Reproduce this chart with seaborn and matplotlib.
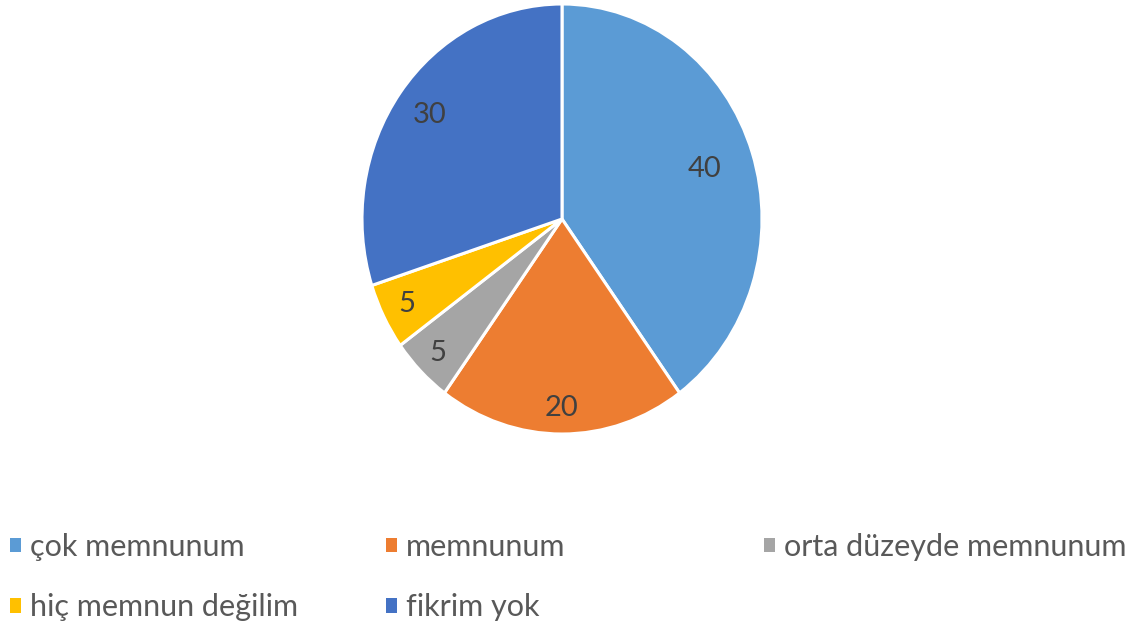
import matplotlib
matplotlib.use("Agg")
import numpy as np
import matplotlib.pyplot as plt
from matplotlib.patches import Patch
import seaborn as sns

# -------------------------------
# Data
# -------------------------------
categories = ["çok memnunum", "memnunum", "orta düzeyde memnunum", "hiç memnun değilim", "fikrim yok"]
values = [40, 20, 5, 5, 30]
colors = ["#5B9BD5", "#ED7D31", "#A5A5A5", "#FFC000", "#4472C4"]
# how far from the centre each value label sits (fraction of radius)
label_dist = [0.75, 0.88, 0.88, 0.87, 0.82]

sns.set_theme(style="white")
plt.rcParams["font.family"] = ["Lato", "DejaVu Sans"]

fig = plt.figure(figsize=(11.38, 6.37), dpi=100)
W, H = 1138, 637

# pie area in pixels (slightly taller than wide, like the original)
left, right, top, bottom = 362, 762, 4, 434
ax = fig.add_axes([left / W, 1 - bottom / H, (right - left) / W, (bottom - top) / H])

palette = sns.color_palette(colors)
wedges, texts = ax.pie(
    values,
    colors=palette,
    startangle=90,
    counterclock=False,
    wedgeprops=dict(edgecolor="white", linewidth=2.2),
)
ax.set_aspect("auto")
ax.set_xlim(-1, 1)
ax.set_ylim(-1, 1)
ax.axis("off")

# value labels inside the wedges
for w, v, d in zip(wedges, values, label_dist):
    mid = np.deg2rad((w.theta1 + w.theta2) / 2)
    ax.text(d * np.cos(mid), d * np.sin(mid), f"{v}", ha="center", va="center",
            color="#404040", fontsize=21)

# -------------------------------
# Legend (three columns, placed like the original)
# -------------------------------
columns = [[0, 3], [1, 4], [2]]
col_x = [10, 386, 764]
for idx, x in zip(columns, col_x):
    handles = [Patch(facecolor=colors[i], edgecolor="none") for i in idx]
    labels = [categories[i] for i in idx]
    fig.legend(
        handles, labels,
        loc="upper left",
        bbox_to_anchor=(x / W, 1 - 533 / H),
        frameon=False,
        fontsize=22,
        labelcolor="#595959",
        handlelength=0.36,
        handleheight=0.36,
        handletextpad=0.3,
        labelspacing=1.06,
        borderpad=0,
        borderaxespad=0,
    )

plt.savefig("out.png", dpi=100)
